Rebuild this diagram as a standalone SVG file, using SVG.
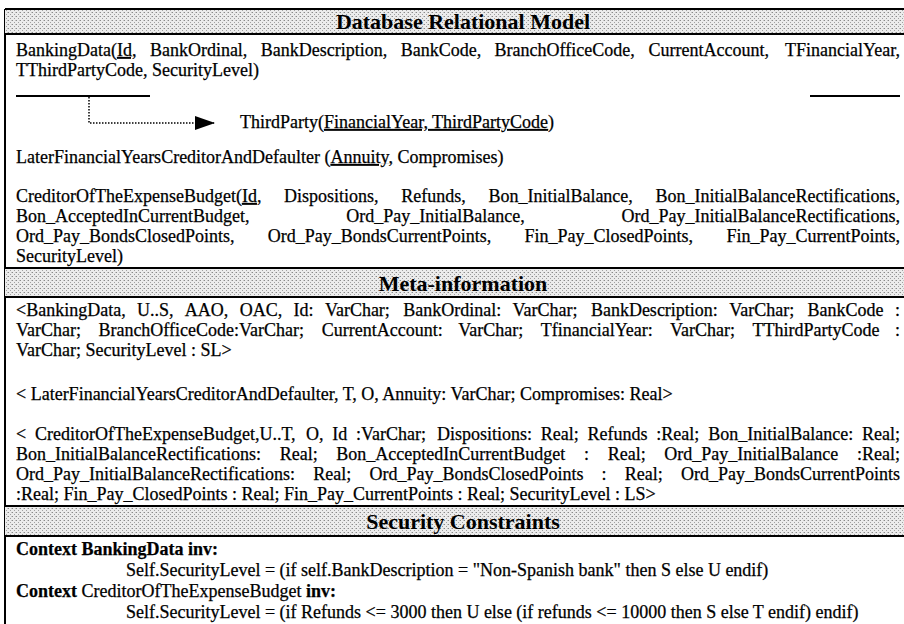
<svg xmlns="http://www.w3.org/2000/svg" width="904" height="624" viewBox="0 0 904 624">
  <defs>
    <style>
      .t { font-family: "Liberation Serif", "Times New Roman", serif; font-size: 18px; fill: #000; stroke: #000; stroke-width: 0.25px; }
      .b { font-weight: bold; }
      .h { font-family: "Liberation Serif", "Times New Roman", serif; font-size: 22px; font-weight: bold; fill: #000; text-anchor: middle; }
      .u { text-decoration: underline; }
      .e { text-anchor: end; }
      .band { fill: url(#stipple); }
      .rule { stroke: #000; stroke-width: 2; fill: none; }
      .fk { stroke: #000; stroke-width: 2; fill: none; }
      .dot { stroke: #000; stroke-width: 1.5; stroke-dasharray: 1.5 1.5; fill: none; }
    </style>
    <pattern id="stipple" width="4" height="4" patternUnits="userSpaceOnUse">
      <rect width="4" height="4" fill="#ececec"/>
      <rect x="0" y="0" width="1" height="1" fill="#8a8a8a"/>
      <rect x="2" y="2" width="1" height="1" fill="#a0a0a0"/>
      <rect x="3" y="0" width="1" height="1" fill="#c4c4c4"/>
    </pattern>
    <marker id="arrow" viewBox="0 0 20 14" refX="19" refY="7" markerWidth="20" markerHeight="14" markerUnits="userSpaceOnUse" orient="auto">
      <path d="M0,0 L20,7 L0,14 Z" fill="#000"/>
    </marker>
  </defs>

  <rect width="904" height="624" fill="#fff"/>

  <!-- outer frame -->
  <line class="rule" x1="5" y1="9" x2="5" y2="624"/>

  <!-- ===== Database Relational Model ===== -->
  <g id="header-relational">
    <rect class="band" x="5" y="9" width="899" height="25"/>
    <line class="rule" x1="5" y1="9" x2="904" y2="9"/>
    <line class="rule" x1="5" y1="34" x2="904" y2="34"/>
    <text class="h" x="463" y="29">Database Relational Model</text>
  </g>

  <g id="rel-bankingdata">
    <text class="t" y="56"><tspan x="16">BankingData(</tspan><tspan class="u">Id,</tspan><tspan x="149.9">BankOrdinal,</tspan><tspan x="260.8">BankDescription,</tspan><tspan x="400.7">BankCode,</tspan><tspan x="494.6">BranchOfficeCode,</tspan><tspan x="648.5">CurrentAccount,</tspan><tspan x="900" class="e">TFinancialYear,</tspan></text>
    <text class="t" x="16" y="76">TThirdPartyCode, SecurityLevel)</text>
  </g>

  <g id="rel-thirdparty">
    <text class="t" x="240" y="128">ThirdParty(<tspan class="u">FinancialYear, ThirdPartyCode</tspan>)</text>
  </g>

  <g id="rel-later">
    <text class="t" x="16" y="163">LaterFinancialYearsCreditorAndDefaulter (<tspan class="u">Annuity,</tspan> Compromises)</text>
  </g>

  <g id="rel-creditor">
    <text class="t" y="202"><tspan x="16">CreditorOfTheExpenseBudget(</tspan><tspan class="u">Id</tspan>,<tspan x="284">Dispositions,</tspan><tspan x="401.2">Refunds,</tspan><tspan x="488.4">Bon_InitialBalance,</tspan><tspan x="900" class="e">Bon_InitialBalanceRectifications,</tspan></text>
    <text class="t" y="222"><tspan x="16">Bon_AcceptedInCurrentBudget,</tspan><tspan x="346.3">Ord_Pay_InitialBalance,</tspan><tspan x="900" class="e">Ord_Pay_InitialBalanceRectifications,</tspan></text>
    <text class="t" y="242"><tspan x="16">Ord_Pay_BondsClosedPoints,</tspan><tspan x="267.8">Ord_Pay_BondsCurrentPoints,</tspan><tspan x="524.6">Fin_Pay_ClosedPoints,</tspan><tspan x="900" class="e">Fin_Pay_CurrentPoints,</tspan></text>
    <text class="t" x="16" y="262">SecurityLevel)</text>
  </g>

  <!-- foreign key: (TFinancialYear, TThirdPartyCode) references ThirdParty -->
  <g id="connectors">
    <line class="fk" x1="16" y1="96" x2="150" y2="96"/>
    <line class="fk" x1="810" y1="96" x2="900" y2="96"/>
    <path class="dot" d="M89,97 V123 H214" marker-end="url(#arrow)"/>
  </g>

  <!-- ===== Meta-information ===== -->
  <g id="header-meta">
    <rect class="band" x="5" y="268" width="899" height="29"/>
    <line class="rule" x1="5" y1="268" x2="904" y2="268"/>
    <line class="rule" x1="5" y1="297" x2="904" y2="297"/>
    <text class="h" x="463" y="291">Meta-information</text>
  </g>

  <g id="meta-bankingdata">
    <text class="t" y="316"><tspan x="16">&lt;BankingData,</tspan><tspan x="137">U..S,</tspan><tspan x="184.8">AAO,</tspan><tspan x="239.7">OAC,</tspan><tspan x="293.5">Id:</tspan><tspan x="324.9">VarChar;</tspan><tspan x="403.2">BankOrdinal:</tspan><tspan x="512.6">VarChar;</tspan><tspan x="590.9">BankDescription:</tspan><tspan x="729.3">VarChar;</tspan><tspan x="807.6">BankCode</tspan><tspan x="900" class="e">:</tspan></text>
    <text class="t" y="336"><tspan x="16">VarChar;</tspan><tspan x="98.4">BranchOfficeCode:VarChar;</tspan><tspan x="321.8">CurrentAccount:</tspan><tspan x="458.2">VarChar;</tspan><tspan x="540.7">TfinancialYear:</tspan><tspan x="670.1">VarChar;</tspan><tspan x="752.5">TThirdPartyCode</tspan><tspan x="900" class="e">:</tspan></text>
    <text class="t" x="16" y="356">VarChar; SecurityLevel : SL&gt;</text>
  </g>

  <g id="meta-later">
    <text class="t" x="16" y="400">&lt; LaterFinancialYearsCreditorAndDefaulter, T, O, Annuity: VarChar; Compromises: Real&gt;</text>
  </g>

  <g id="meta-creditor">
    <text class="t" y="440"><tspan x="16">&lt;</tspan><tspan x="35">CreditorOfTheExpenseBudget,U..T,</tspan><tspan x="305.9">O,</tspan><tspan x="332.2">Id</tspan><tspan x="356">:VarChar;</tspan><tspan x="436.9">Dispositions:</tspan><tspan x="540.7">Real;</tspan><tspan x="587.5">Refunds</tspan><tspan x="656.3">:Real;</tspan><tspan x="708.2">Bon_InitialBalance:</tspan><tspan x="900" class="e">Real;</tspan></text>
    <text class="t" y="460"><tspan x="16">Bon_InitialBalanceRectifications:</tspan><tspan x="279.7">Real;</tspan><tspan x="336.3">Bon_AcceptedInCurrentBudget</tspan><tspan x="584">:</tspan><tspan x="607.7">Real;</tspan><tspan x="664.3">Ord_Pay_InitialBalance</tspan><tspan x="900" class="e">:Real;</tspan></text>
    <text class="t" y="480"><tspan x="16">Ord_Pay_InitialBalanceRectifications:</tspan><tspan x="313.2">Real;</tspan><tspan x="369.4">Ord_Pay_BondsClosedPoints</tspan><tspan x="601.6">:</tspan><tspan x="624.8">Real;</tspan><tspan x="900" class="e">Ord_Pay_BondsCurrentPoints</tspan></text>
    <text class="t" x="16" y="500">:Real; Fin_Pay_ClosedPoints : Real; Fin_Pay_CurrentPoints : Real; SecurityLevel : LS&gt;</text>
  </g>

  <!-- ===== Security Constraints ===== -->
  <g id="header-security">
    <rect class="band" x="5" y="506" width="899" height="30"/>
    <line class="rule" x1="5" y1="506" x2="904" y2="506"/>
    <line class="rule" x1="5" y1="536" x2="904" y2="536"/>
    <text class="h" x="463" y="529">Security Constraints</text>
  </g>

  <g id="constraint-bankingdata">
    <text class="t b" x="16" y="555">Context BankingData inv:</text>
    <text class="t" x="126" y="576">Self.SecurityLevel = (if self.BankDescription = "Non-Spanish bank" then S else U endif)</text>
  </g>

  <g id="constraint-creditor">
    <text class="t" x="16" y="597"><tspan class="b">Context</tspan> CreditorOfTheExpenseBudget <tspan class="b">inv:</tspan></text>
    <text class="t" x="126" y="618">Self.SecurityLevel = (if Refunds &lt;= 3000 then U else (if refunds &lt;= 10000 then S else T endif) endif)</text>
  </g>
</svg>
